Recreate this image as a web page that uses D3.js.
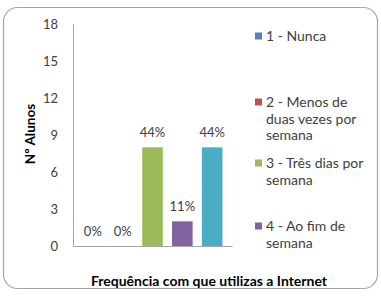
<!DOCTYPE html>
<html>
<head>
<meta charset="utf-8">
<script src="https://cdn.jsdelivr.net/npm/d3@7"></script>
<style>
  body { margin: 0; background: #fff; }
  text { font-family: Lato, "Open Sans", sans-serif; }
</style>
</head>
<body>
<div id="chart"></div>
<script>
var series = ["1 - Nunca", "2 - Menos de duas vezes por semana", "3 - Três dias por semana", "4 - Ao fim de semana", "5 - Todos os dias"];
var legendLines = [["1 - Nunca"], ["2 - Menos de", "duas vezes por", "semana"], ["3 - Três dias por", "semana"], ["4 - Ao fim de", "semana"]];
var values = [0, 0, 8, 2, 8];
var yTicks = [0, 3, 6, 9, 12, 15, 18];
var colors = ["#4F81BD", "#C0504D", "#9BBB59", "#8064A2", "#4BACC6"];

function draw_chart() {
    var W = 381, H = 303;
    var plot = { left: 73, right: 232, top: 24, bottom: 246 };
    var total = d3.sum(values);

    var svg = d3.select("#chart")
        .append("svg")
        .attr("width", W)
        .attr("height", H);

    // chart border
    svg.append("rect")
        .attr("x", 3.5).attr("y", 7.5)
        .attr("width", 374).attr("height", 281)
        .attr("rx", 14).attr("ry", 14)
        .attr("fill", "#fff")
        .attr("stroke", "#a6a6a6")
        .attr("stroke-width", 1.2);

    var x = d3.scaleBand()
        .domain(series)
        .range([plot.left, plot.right])
        .paddingInner(0.31)
        .paddingOuter(0.32);

    var y = d3.scaleLinear()
        .domain([0, 18])
        .range([plot.bottom, plot.top]);

    // y axis
    var yAxis = svg.append("g")
        .attr("transform", "translate(" + plot.left + ",0)")
        .call(d3.axisLeft(y).tickValues(yTicks).tickSize(0).tickPadding(15));
    yAxis.select(".domain").attr("stroke", "#a6a6a6");
    yAxis.selectAll("text").attr("font-size", 13).attr("fill", "#404040");

    // x axis line
    var xAxis = svg.append("g")
        .attr("transform", "translate(0," + plot.bottom + ")")
        .call(d3.axisBottom(x).tickSize(0).tickFormat(""));
    xAxis.select(".domain").attr("stroke", "#a6a6a6");

    svg.append("g")
        .selectAll("rect")
        .data(series)
        .enter().append("rect")
        .attr("x", function(d) { return x(d); })
        .attr("y", function(d, i) { return y(values[i]); })
        .attr("width", x.bandwidth())
        .attr("height", function(d, i) { return y(0) - y(values[i]); })
        .attr("fill", function(d, i) { return colors[i]; });

    svg.append("g")
        .selectAll("text")
        .data(series)
        .enter().append("text")
        .attr("x", function(d) { return x(d) + x.bandwidth() / 2; })
        .attr("y", function(d, i) { return y(values[i]) - 10; })
        .attr("text-anchor", "middle")
        .attr("font-size", 13)
        .attr("fill", "#404040")
        .text(function(d, i) { return Math.round(values[i] / total * 100) + "%"; });

    // axis titles
    svg.append("text")
        .attr("transform", "translate(35,134) rotate(-90)")
        .attr("text-anchor", "middle")
        .attr("font-size", 13.5)
        .attr("font-weight", "bold")
        .attr("fill", "#000")
        .text("Nº Alunos");

    svg.append("text")
        .attr("x", 209)
        .attr("y", 286)
        .attr("text-anchor", "middle")
        .attr("font-size", 14)
        .attr("font-weight", "bold")
        .attr("fill", "#000")
        .text("Frequência com que utilizas a Internet");

    // legend (5th entry doesn't fit in the original, only 4 shown)
    var legendY = [36, 102, 163, 226];
    var lg = svg.append("g")
        .selectAll("g")
        .data(legendLines)
        .enter().append("g")
        .attr("transform", function(d, i) { return "translate(255," + legendY[i] + ")"; });
    lg.append("rect")
        .attr("x", 0).attr("y", -3.5)
        .attr("width", 7).attr("height", 7)
        .attr("fill", function(d, i) { return colors[i]; });
    lg.append("text")
        .attr("x", 11)
        .attr("y", 5)
        .attr("font-size", 14)
        .attr("fill", "#404040")
        .selectAll("tspan")
        .data(function(d) { return d; })
        .enter().append("tspan")
        .attr("x", 11)
        .attr("dy", function(d, i) { return i == 0 ? 0 : 16.5; })
        .text(function(d) { return d; });
}

draw_chart();
</script>
</body>
</html>
